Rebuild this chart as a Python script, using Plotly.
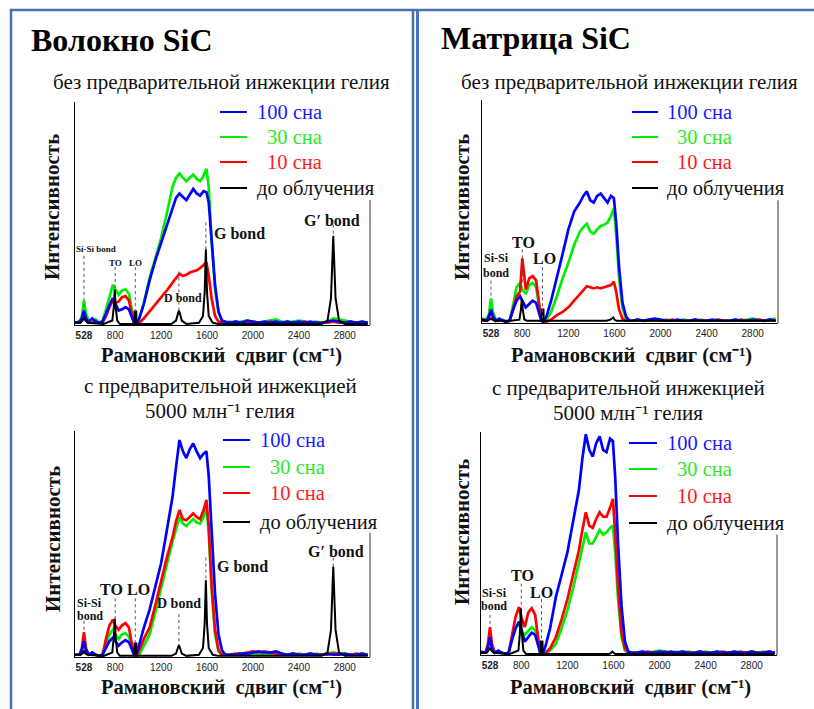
import plotly.graph_objects as go

W, H = 814, 709
SERIF = "Liberation Serif, Times New Roman, serif"
SANS = "Liberation Sans, Arial, sans-serif"

# ---------------- data ----------------
X_COL = [450, 490, 510, 528, 545, 570, 600, 630, 660, 690,
         720, 750, 780, 800, 830, 860, 890, 920, 945, 965,
         985, 1010, 1050, 1100, 1150, 1200, 1250, 1300, 1330, 1360,
         1390, 1420, 1450, 1480, 1510, 1540, 1570, 1595, 1615, 1640,
         1670, 1700, 1730, 1760, 1800, 1850, 1900, 1950, 2000, 2050,
         2100, 2150, 2200, 2250, 2300, 2350, 2400, 2450, 2500, 2550,
         2600, 2650, 2700, 2750, 2800, 2850, 2900, 2950, 3000]

X_BLK = [450, 500, 515, 528, 541, 560, 700, 775, 788, 796,
         804, 818, 840, 955, 968, 970, 984, 986, 1000, 1290,
         1330, 1345, 1355, 1365, 1380, 1420, 1530, 1565, 1580, 1590,
         1600, 1615, 1650, 1700, 2600, 2650, 2680, 2693, 2700, 2707,
         2720, 2750, 2800, 3000]

# Fiber SiC, no He pre-injection
TL_BLUE = [1, 1.5, 3, 6.5, 3, 1.5, 3, 1.5, 1, 1.5,
           5, 9, 12, 10, 6.5, 7, 8, 7, 4, 1,
           0.5, 3, 9.5, 20, 29, 37, 45, 53, 57, 59,
           57.5, 56, 58.5, 61, 59, 58, 60, 59.5, 55, 38,
           18, 6, 2, 1.5, 1, 1.5, 1, 2, 1.5, 1,
           1.5, 1, 1.5, 1, 1.5, 1, 1.5, 1, 1.5, 1,
           1, 1.5, 2, 1.5, 1, 1.5, 1, 1.5, 1]
TL_GREEN = [1, 1.5, 4, 11, 5, 2, 1.5, 2.5, 1, 2,
            7, 13, 18, 16, 13.5, 15.5, 16, 14, 7, 1.5,
            0.5, 3, 10, 21, 30, 39, 50, 62, 66, 68,
            66, 64.5, 66, 67.5, 65.5, 64.5, 67, 70, 62, 38,
            16, 6, 2, 1, 1.5, 1, 1.5, 2, 1.5, 1,
            1.5, 2, 2.5, 1.5, 1, 1.5, 2, 1.5, 1, 1.5,
            1, 1.5, 3, 2.5, 2, 1.5, 1, 1.5, 1]
TL_RED = [1, 1, 2.5, 5.5, 2.5, 1, 1, 1.5, 1, 1,
          4, 8, 11, 10, 10.5, 12.5, 13, 11, 5, 1,
          0.5, 1, 3, 6, 9, 12.5, 15.5, 19, 21, 23,
          22, 22.5, 23.5, 24, 24.5, 25.5, 27, 28, 22, 12,
          4, 1.5, 1, 1, 1, 1.5, 1, 1, 1.5, 1,
          1, 1.5, 1, 1, 1.5, 1, 1, 1.5, 1, 1,
          1, 1, 1.5, 1, 1, 1.5, 1, 1, 1]
TL_BLACK = [1, 1, 2, 3, 2, 1, 0.5, 2, 8, 16,
            8, 2, 0.5, 0.5, 0.5, 6, 6, 0.5, 0.5, 0.5,
            2, 5, 6.5, 5, 2, 0.5, 1, 4, 15, 34,
            15, 4, 1, 0.5, 0.5, 2, 12, 30, 40, 30,
            12, 2, 0.5, 0.5]

# Matrix SiC, no He pre-injection
TR_BLUE = [1.5, 1, 3, 6, 3, 1, 2, 1, 0.5, 1,
           6, 10, 12, 10, 7, 8.5, 10, 9, 4, 1,
           0.5, 3, 10, 20, 31, 42, 50, 54, 57, 59,
           55, 54, 57, 58, 56, 54, 57, 56, 45, 25,
           9, 3, 1, 1, 1.5, 1, 1.5, 2, 1.5, 1,
           1, 1.5, 1, 1, 1.5, 1, 1, 1.5, 1, 1,
           1, 1.5, 1, 1, 1.5, 1, 1, 1.5, 1]
TR_GREEN = [2, 1.5, 4, 11, 5, 1.5, 1, 1.5, 0.5, 1,
            8, 16, 18, 15, 13, 17, 18, 16, 8, 1,
            0.5, 1.5, 5, 12, 20, 27, 35, 41, 43, 44.5,
            41, 40, 42, 43.5, 44, 45, 48, 51.5, 40, 20,
            7, 2, 1, 1, 1.5, 1, 1, 1.5, 1, 1.5,
            1, 1, 1.5, 1, 1, 1.5, 1, 1, 1.5, 1,
            1, 1.5, 1, 1.5, 2, 1.5, 1, 1.5, 2]
TR_RED = [1, 1, 2.5, 5, 2.5, 1, 1, 1, 0.5, 1,
          6, 12, 14, 29, 15, 20, 21, 19, 9, 1.5,
          0.5, 0.5, 1.5, 3.5, 5, 7, 10, 13, 15, 16.5,
          16, 15.5, 16, 15.5, 16, 16.5, 17, 18.5, 14, 6,
          2, 1, 1, 1, 1.5, 1, 1, 1.5, 1, 1,
          1.5, 1, 1, 1, 1.5, 1, 1, 1, 1.5, 1,
          1, 1, 1.5, 1, 1, 1.5, 1, 1.5, 1]
TR_BLACK = [1.5, 1, 1.5, 2, 1.5, 1, 1, 1.5, 6, 11,
            6, 1.5, 1, 1, 1, 6, 6, 1, 1, 1,
            1, 1, 1, 1, 1, 1, 1, 1.5, 2, 2.5,
            1.5, 1, 1, 1, 1, 1, 1, 1, 1, 1,
            1, 1, 1, 1]

# Fiber SiC, 5000 appm He
BL_BLUE = [1, 1, 3, 7, 3, 1, 2, 1, 0.5, 1,
           4, 7, 8.5, 7, 5, 6.5, 7.5, 6.5, 3, 1,
           1, 6, 13, 21, 31, 41.5, 56, 71, 84, 96,
           91, 88, 92, 94.5, 91, 88, 90, 91, 80, 55,
           28, 10, 3, 1, 1, 1, 1.5, 1.5, 2, 2.5,
           2, 2, 2.5, 1.5, 1, 1.5, 1, 1, 1.5, 1,
           1, 1.5, 1, 1, 1.5, 1, 1, 1.5, 1]
BL_GREEN = [1, 1, 3, 8, 3, 1, 1, 1, 0.5, 1,
            6, 10, 12, 10, 8, 10, 10.5, 9, 4, 0.5,
            0.3, 1, 5, 10, 20, 31, 41, 51, 57, 62,
            59, 58, 59.5, 61, 59.5, 59, 62, 66, 55, 30,
            10, 2.5, 1, 1, 1, 1, 1.5, 1, 1.5, 1,
            1.5, 1, 1, 1.5, 1, 1, 1.5, 1, 1, 1.5,
            1, 1.5, 2, 1.5, 1.5, 1, 1, 1.5, 1]
BL_RED = [1, 1, 4, 11, 4, 1, 1, 1, 0.5, 1,
          8, 14, 16.5, 14, 12, 14, 15, 13, 6, 1,
          0.5, 3, 8, 13, 23, 34, 44, 53, 60, 65,
          61, 60.5, 62, 63.5, 62, 61, 65, 69.5, 58, 32,
          12, 3, 1, 1, 1, 1.5, 1.5, 2, 2.5, 2,
          2.5, 2, 1.5, 1, 1, 1.5, 1, 1, 1.5, 1,
          1, 1, 1.5, 1.5, 1, 1, 1.5, 1, 1]
BL_BLACK = [1, 1, 1.5, 2.5, 1.5, 1, 0.5, 2, 9, 17,
            9, 2, 0.5, 0.5, 0.5, 6, 6, 0.5, 0.5, 0.5,
            1.5, 4, 5.3, 4, 1.5, 0.5, 1, 4, 15, 34,
            15, 4, 1, 0.5, 0.5, 2, 12, 30, 40, 30,
            12, 2, 0.5, 0.5]

# Matrix SiC, 5000 appm He
BR_BLUE = [1.5, 1, 3.5, 8, 3, 1, 2, 1, 0.5, 1,
           7, 12, 15, 11, 6, 8, 10, 9, 4, 1,
           0.5, 4, 12, 26, 36, 46, 60, 74, 88, 99,
           92, 89, 95, 98, 92, 91, 97, 96, 80, 50,
           22, 6, 1.5, 1, 1, 1.5, 1, 1, 1.5, 1,
           1.5, 1, 1.5, 1, 1, 1.5, 1, 1, 1.5, 1,
           1, 1.5, 1, 1, 1.5, 1, 1, 1.5, 1]
BR_GREEN = [1, 1, 4, 9, 4, 1, 1, 1, 0.5, 1,
            7, 12, 14, 11, 9, 11, 12.5, 11, 5, 0.5,
            0.3, 0.5, 2, 5, 12, 20, 30, 41, 48, 55,
            50, 50, 53, 56, 54, 55, 57, 58, 46, 25,
            8, 2, 1, 1, 1, 1.5, 1, 1.5, 2, 1.5,
            1, 1.5, 1, 1.5, 1, 1, 1.5, 1, 1.5, 1,
            1, 1.5, 1, 1, 1.5, 1, 1.5, 1, 1]
BR_RED = [1, 1, 5, 12.5, 5, 1, 1, 1, 0.5, 1,
          9, 17, 21.5, 17, 12.5, 19, 21, 18, 8, 1,
          0.5, 1, 3, 8, 16, 25, 36, 47, 56, 64,
          58, 57, 61, 64, 62, 62, 66, 70, 55, 30,
          10, 3, 1, 1, 1, 1, 1.5, 1, 1, 1.5,
          1, 1, 1.5, 1, 1, 1.5, 1, 1, 1, 1.5,
          1, 1, 1.5, 1, 1.5, 1, 1, 1.5, 1]
BR_BLACK = [1, 1, 2, 3, 2, 1, 0.5, 2, 10, 21,
            10, 2, 0.5, 0.5, 0.5, 6, 6, 0.5, 0.5, 0.5,
            0.5, 0.5, 0.5, 0.5, 0.5, 0.5, 0.5, 0.5, 1, 1.5,
            1, 0.5, 0.5, 0.5, 0.5, 0.5, 0.5, 0.5, 0.5, 0.5,
            0.5, 0.5, 0.5, 0.5]

TICK_VALS = [528, 800, 1200, 1600, 2000, 2400, 2800]
TICK_TEXT = ["<b>528</b>", "800", "1200", "1600", "2000", "2400", "2800"]
X_RANGE = [450, 3020]

SERIES_NAMES = ["100 сна", "30 сна", "10 сна", "до облучения"]
SERIES_COLORS = ["#0000ff", "#00ee00", "#ff0000", "#000000"]
LEGEND_TEXT_COLORS = ["#1a1aff", "#2be82b", "#ff1a1a", "#111111"]

X_TITLE = "<b>Рамановский  сдвиг (см⁻¹)</b>"
Y_TITLE = "<b>Интенсивность</b>"

# peak labels: (text, x, y, font size)
TL_LABELS = [("Si-Si bond", 633, 34, 9), ("TO", 800, 28, 9), ("LO", 980, 28, 9),
             ("D bond", 1390, 12, 12), ("G bond", 1880, 41, 16), ("G′ bond", 2690, 47, 16)]
TR_LABELS = [("Si-Si", 575, 29, 12), ("bond", 575, 22.5, 12), ("TO", 810, 36, 16), ("LO", 990, 29, 16)]
BL_LABELS = [("Si-Si", 580, 24, 12), ("bond", 580, 18, 12), ("TO", 770, 30, 16), ("LO", 1000, 30, 16),
             ("D bond", 1356, 23.5, 14), ("G bond", 1913, 40, 16), ("G′ bond", 2723, 46.5, 16)]
BR_LABELS = [("Si-Si", 565, 28, 12), ("bond", 565, 22, 12), ("TO", 810, 35.5, 16), ("LO", 975, 28, 16)]

# dotted guide lines: (x, y_top, y_bottom)
TL_GUIDES = [(528, 31, 6), (800, 26, 16), (975, 26, 6), (1355, 24, 6), (1590, 46, 34), (2700, 45, 40)]
TR_GUIDES = [(528, 19, 11), (800, 33, 18), (975, 25, 1)]
BL_GUIDES = [(528, 16, 10), (800, 26, 17), (975, 26, 6), (1355, 19, 5), (1590, 44, 34), (2700, 44, 40)]
BR_GUIDES = [(528, 18, 12), (800, 32, 21), (975, 25, 6)]

# ---------------- layout geometry (pixels) ----------------
PANELS = [
    dict(dom=(75, 370, 102, 325), blue=TL_BLUE, green=TL_GREEN, red=TL_RED, black=TL_BLACK,
         labels=TL_LABELS, guides=TL_GUIDES, right_h=56,
         leg_line=(220, 247), leg_text=255, leg_rows=(112, 137, 162, 188),
         sub=["без предварительной инжекции гелия"], sub_c=221, sub_y=[82],
         xt=(222, 355), yt=(52, 207)),
    dict(dom=(482, 778, 100, 323), blue=TR_BLUE, green=TR_GREEN, red=TR_RED, black=TR_BLACK,
         labels=TR_LABELS, guides=TR_GUIDES, right_h=55,
         leg_line=(632, 658), leg_text=665, leg_rows=(112, 137, 162, 188),
         sub=["без предварительной инжекции гелия"], sub_c=629, sub_y=[82],
         xt=(631, 355), yt=(462, 207)),
    dict(dom=(75, 370, 431, 657), blue=BL_BLUE, green=BL_GREEN, red=BL_RED, black=BL_BLACK,
         labels=BL_LABELS, guides=BL_GUIDES, right_h=55,
         leg_line=(223, 250), leg_text=258, leg_rows=(440, 467, 493, 522),
         sub=["с предварительной инжекцией", "5000 млн⁻¹ гелия"], sub_c=220, sub_y=[386, 411],
         xt=(222, 687), yt=(53, 539)),
    dict(dom=(481, 777, 432, 655), blue=BR_BLUE, green=BR_GREEN, red=BR_RED, black=BR_BLACK,
         labels=BR_LABELS, guides=BR_GUIDES, right_h=54,
         leg_line=(629, 657), leg_text=665, leg_rows=(443, 469, 496, 523),
         sub=["с предварительной инжекцией", "5000 млн⁻¹ гелия"], sub_c=628, sub_y=[388, 413],
         xt=(630, 687), yt=(462, 532)),
]


def fx(px):
    return px / W


def fy(py):
    return 1 - py / H


fig = go.Figure()
shapes = []
annotations = []
layout_axes = {}

for i, p in enumerate(PANELS):
    sfx = "" if i == 0 else str(i + 1)
    xa, ya = "x" + sfx, "y" + sfx
    l, r, t, b = p["dom"]
    for ys, color in [(p["green"], SERIES_COLORS[1]), (p["red"], SERIES_COLORS[2]),
                      (p["blue"], SERIES_COLORS[0])]:
        fig.add_trace(go.Scatter(x=X_COL, y=ys, xaxis=xa, yaxis=ya, mode="lines",
                                 line=dict(color=color, width=2.7), showlegend=False,
                                 hoverinfo="skip"))
    fig.add_trace(go.Scatter(x=X_BLK, y=p["black"], xaxis=xa, yaxis=ya, mode="lines",
                             line=dict(color="#000000", width=2), showlegend=False,
                             hoverinfo="skip"))

    layout_axes["xaxis" + sfx] = dict(
        domain=[fx(l), fx(r)], range=X_RANGE, anchor=ya, tickvals=TICK_VALS, ticktext=TICK_TEXT,
        showline=True, linecolor="#000", linewidth=1, showgrid=False, zeroline=False,
        ticks="", ticklabelstandoff=1, tickfont=dict(family=SANS, size=10, color="#222"))
    layout_axes["yaxis" + sfx] = dict(
        domain=[fy(b), fy(t)], range=[0, 100], anchor=xa, showline=True, linecolor="#000",
        linewidth=1, showgrid=False, zeroline=False, showticklabels=False, ticks="")

    # partial right frame line
    shapes.append(dict(type="line", xref=xa + " domain", yref=ya, x0=1, x1=1, y0=0,
                       y1=p["right_h"], line=dict(color="#333", width=1)))
    # dotted guide lines
    for gx, gy0, gy1 in p["guides"]:
        shapes.append(dict(type="line", xref=xa, yref=ya, x0=gx, x1=gx, y0=gy0, y1=gy1,
                           line=dict(color="#555", width=1, dash="dot")))
    # peak labels
    for txt, lx, ly, sz in p["labels"]:
        annotations.append(dict(text="<b>" + txt + "</b>", x=lx, y=ly, xref=xa, yref=ya,
                                showarrow=False, xanchor="center", yanchor="middle",
                                font=dict(family=SERIF, size=sz, color="#111")))
    # legend
    for k in range(4):
        row = p["leg_rows"][k]
        shapes.append(dict(type="line", xref="paper", yref="paper",
                           x0=fx(p["leg_line"][0]), x1=fx(p["leg_line"][1]), y0=fy(row), y1=fy(row),
                           line=dict(color=SERIES_COLORS[k], width=2)))
        indent = 10 if k in (1, 2) else 0
        annotations.append(dict(text=SERIES_NAMES[k], x=fx(p["leg_text"] + indent), y=fy(row),
                                xref="paper", yref="paper", showarrow=False, xanchor="left",
                                yanchor="middle",
                                font=dict(family=SERIF, size=20.5, color=LEGEND_TEXT_COLORS[k])))
    # subtitles
    for s, sy in zip(p["sub"], p["sub_y"]):
        annotations.append(dict(text=s, x=fx(p["sub_c"]), y=fy(sy), xref="paper", yref="paper",
                                showarrow=False, xanchor="center", yanchor="middle",
                                font=dict(family=SERIF, size=21, color="#111")))
    # axis titles
    annotations.append(dict(text=X_TITLE, x=fx(p["xt"][0]),
                            y=fy(p["xt"][1]), xref="paper", yref="paper", showarrow=False,
                            xanchor="center", yanchor="middle",
                            font=dict(family=SERIF, size=20.5, color="#111")))
    annotations.append(dict(text=Y_TITLE, x=fx(p["yt"][0]), y=fy(p["yt"][1]),
                            xref="paper", yref="paper", showarrow=False, textangle=-90,
                            xanchor="center", yanchor="middle",
                            font=dict(family=SERIF, size=21, color="#111")))

# main titles
annotations.append(dict(text="<b>Волокно SiC</b>", x=fx(29), y=fy(40), xref="paper", yref="paper",
                        showarrow=False, xanchor="left", yanchor="middle",
                        font=dict(family=SERIF, size=32, color="#000")))
annotations.append(dict(text="<b>Матрица SiC</b>", x=fx(439), y=fy(38), xref="paper", yref="paper",
                        showarrow=False, xanchor="left", yanchor="middle",
                        font=dict(family=SERIF, size=32, color="#000")))

# panel frames
FRAME = "#4a70b5"
shapes += [
    dict(type="line", xref="paper", yref="paper", x0=fx(10), x1=1, y0=fy(10), y1=fy(10),
         line=dict(color=FRAME, width=2.5)),
    dict(type="line", xref="paper", yref="paper", x0=fx(11), x1=fx(11), y0=fy(9), y1=0,
         line=dict(color=FRAME, width=2.5)),
    dict(type="line", xref="paper", yref="paper", x0=fx(413), x1=fx(413), y0=fy(9), y1=0,
         line=dict(color=FRAME, width=2.5)),
    dict(type="line", xref="paper", yref="paper", x0=fx(417.5), x1=fx(417.5), y0=fy(9), y1=0,
         line=dict(color=FRAME, width=3)),
]

fig.update_layout(width=W, height=H, margin=dict(l=0, r=0, t=0, b=0),
                  paper_bgcolor="white", plot_bgcolor="white", showlegend=False,
                  shapes=shapes, annotations=annotations, **layout_axes)

fig.write_html("out.html", include_plotlyjs=True, full_html=True,
               config={"displayModeBar": False})
